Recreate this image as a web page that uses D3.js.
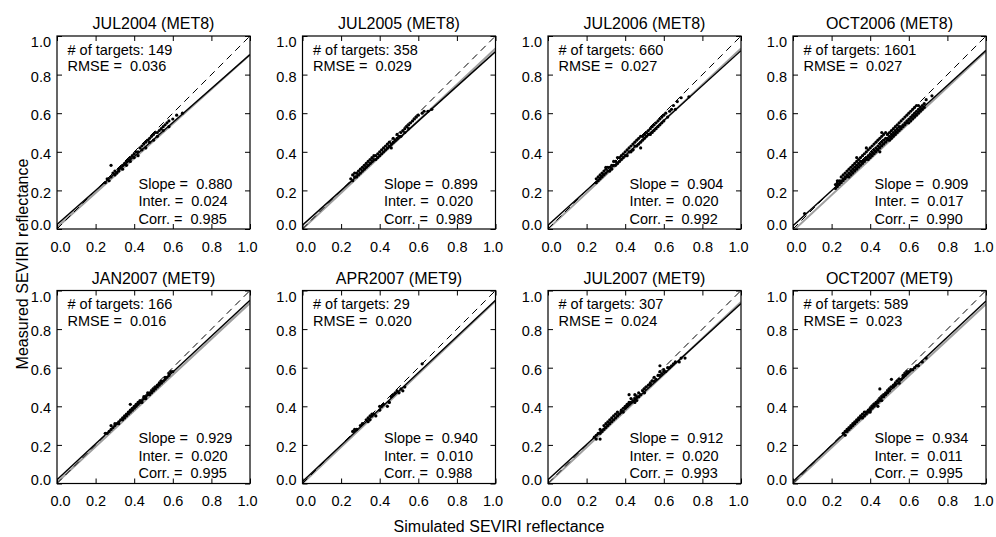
<!DOCTYPE html>
<html>
<head>
<meta charset="utf-8">
<script src="https://cdn.jsdelivr.net/npm/d3@7"></script>
<style>
body { margin: 0; background: #fff; }
svg text { font-family: "Liberation Sans", Arial, Helvetica, sans-serif; fill: #000; }
</style>
</head>
<body>
<div id="chart-area"></div>
<script>
// SEVIRI measured vs simulated reflectance, 8 campaigns
var titles = ["JUL2004 (MET8)", "JUL2005 (MET8)", "JUL2006 (MET8)", "OCT2006 (MET8)",
              "JAN2007 (MET9)", "APR2007 (MET9)", "JUL2007 (MET9)", "OCT2007 (MET9)"];
var nTargets = [149, 358, 660, 1601, 166, 29, 307, 589];
var rmse   = [0.036, 0.029, 0.027, 0.027, 0.016, 0.020, 0.024, 0.023];
var slopes = [0.880, 0.899, 0.904, 0.909, 0.929, 0.940, 0.912, 0.934];
var inters = [0.024, 0.020, 0.020, 0.017, 0.020, 0.010, 0.020, 0.011];
var corrs  = [0.985, 0.989, 0.992, 0.990, 0.995, 0.988, 0.993, 0.995];
// grey line: [intercept, slope]
var greyFits = [[0.008, 0.895], [0.0, 0.935], [0.0, 0.935], [-0.01, 0.93],
                [0.005, 0.93], [0.0, 0.945], [0.0, 0.94], [0.0, 0.93]];
var tickValues = [0, 0.2, 0.4, 0.6, 0.8, 1.0];

// [simulated, measured]
var jul2004 = [[0.25,0.24],[0.26,0.26],[0.27,0.25],[0.28,0.27],[0.28,0.33],[0.29,0.29],[0.30,0.28],[0.30,0.30],[0.31,0.29],[0.32,0.31],[0.32,0.30],[0.33,0.32],[0.34,0.33],[0.34,0.31],[0.35,0.34],[0.36,0.35],[0.36,0.33],[0.37,0.36],[0.38,0.37],[0.38,0.35],[0.39,0.38],[0.40,0.39],[0.40,0.37],[0.41,0.40],[0.42,0.40],[0.42,0.38],[0.43,0.42],[0.44,0.43],[0.44,0.41],[0.45,0.44],[0.46,0.45],[0.46,0.42],[0.47,0.46],[0.48,0.47],[0.48,0.45],[0.49,0.48],[0.50,0.49],[0.50,0.46],[0.51,0.50],[0.52,0.50],[0.52,0.48],[0.53,0.51],[0.54,0.52],[0.55,0.53],[0.55,0.51],[0.56,0.54],[0.57,0.55],[0.58,0.56],[0.58,0.53],[0.60,0.57],[0.62,0.59],[0.65,0.60]];
var jul2005 = [[0.25,0.26],[0.26,0.28],[0.26,0.25],[0.27,0.27],[0.27,0.29],[0.28,0.27],[0.28,0.29],[0.29,0.28],[0.29,0.30],[0.30,0.29],[0.30,0.31],[0.31,0.30],[0.31,0.32],[0.32,0.31],[0.32,0.33],[0.33,0.32],[0.33,0.34],[0.34,0.33],[0.34,0.35],[0.35,0.34],[0.35,0.36],[0.36,0.35],[0.36,0.37],[0.37,0.36],[0.37,0.38],[0.38,0.36],[0.38,0.38],[0.39,0.37],[0.39,0.39],[0.40,0.38],[0.40,0.40],[0.41,0.39],[0.41,0.41],[0.42,0.40],[0.42,0.42],[0.43,0.41],[0.43,0.43],[0.44,0.42],[0.44,0.44],[0.45,0.43],[0.45,0.45],[0.46,0.44],[0.46,0.42],[0.47,0.45],[0.47,0.47],[0.48,0.46],[0.49,0.47],[0.49,0.49],[0.50,0.48],[0.51,0.50],[0.51,0.48],[0.52,0.51],[0.53,0.52],[0.53,0.50],[0.54,0.53],[0.55,0.54],[0.55,0.52],[0.56,0.55],[0.57,0.56],[0.58,0.57],[0.59,0.58],[0.60,0.59],[0.62,0.60],[0.63,0.61],[0.65,0.61],[0.67,0.62]];
var jul2006 = [[0.25,0.24],[0.25,0.26],[0.26,0.25],[0.26,0.27],[0.27,0.28],[0.27,0.26],[0.28,0.29],[0.28,0.27],[0.29,0.30],[0.29,0.28],[0.30,0.31],[0.30,0.29],[0.31,0.32],[0.31,0.30],[0.32,0.32],[0.32,0.30],[0.33,0.33],[0.33,0.31],[0.34,0.35],[0.34,0.33],[0.35,0.35],[0.35,0.33],[0.36,0.37],[0.36,0.34],[0.37,0.37],[0.37,0.35],[0.38,0.38],[0.38,0.36],[0.39,0.39],[0.39,0.37],[0.40,0.40],[0.40,0.38],[0.41,0.41],[0.41,0.38],[0.42,0.42],[0.42,0.40],[0.43,0.43],[0.43,0.40],[0.44,0.44],[0.44,0.41],[0.45,0.45],[0.45,0.43],[0.46,0.46],[0.46,0.43],[0.47,0.47],[0.47,0.44],[0.48,0.48],[0.48,0.45],[0.49,0.48],[0.49,0.46],[0.50,0.49],[0.50,0.47],[0.51,0.50],[0.51,0.48],[0.52,0.51],[0.52,0.49],[0.53,0.52],[0.53,0.49],[0.54,0.53],[0.54,0.50],[0.55,0.54],[0.55,0.51],[0.56,0.55],[0.56,0.52],[0.57,0.56],[0.57,0.53],[0.58,0.57],[0.58,0.54],[0.59,0.58],[0.59,0.55],[0.60,0.59],[0.60,0.56],[0.61,0.60],[0.62,0.58],[0.63,0.61],[0.64,0.62],[0.65,0.64],[0.66,0.62],[0.67,0.66],[0.69,0.68],[0.73,0.685],[0.44,0.41],[0.48,0.42],[0.30,0.32]];
var oct2006 = [[0.22,0.21],[0.22,0.23],[0.23,0.22],[0.23,0.24],[0.23,0.25],[0.24,0.23],[0.24,0.25],[0.25,0.24],[0.25,0.25],[0.25,0.27],[0.26,0.25],[0.26,0.26],[0.26,0.28],[0.27,0.26],[0.27,0.27],[0.27,0.29],[0.28,0.27],[0.28,0.28],[0.28,0.30],[0.29,0.27],[0.29,0.29],[0.29,0.31],[0.30,0.28],[0.30,0.30],[0.30,0.32],[0.31,0.29],[0.31,0.31],[0.31,0.33],[0.32,0.30],[0.32,0.32],[0.32,0.34],[0.33,0.31],[0.33,0.33],[0.33,0.35],[0.34,0.32],[0.34,0.34],[0.34,0.36],[0.35,0.33],[0.35,0.35],[0.35,0.37],[0.36,0.34],[0.36,0.35],[0.36,0.38],[0.37,0.35],[0.37,0.36],[0.37,0.39],[0.38,0.36],[0.38,0.37],[0.38,0.40],[0.39,0.36],[0.39,0.38],[0.39,0.41],[0.40,0.37],[0.40,0.39],[0.40,0.42],[0.41,0.38],[0.41,0.40],[0.41,0.43],[0.42,0.39],[0.42,0.41],[0.42,0.44],[0.43,0.40],[0.43,0.42],[0.43,0.45],[0.44,0.41],[0.44,0.43],[0.44,0.46],[0.45,0.42],[0.45,0.44],[0.45,0.47],[0.46,0.43],[0.46,0.45],[0.46,0.48],[0.47,0.44],[0.47,0.46],[0.47,0.49],[0.48,0.45],[0.48,0.47],[0.48,0.50],[0.49,0.46],[0.49,0.47],[0.49,0.49],[0.50,0.46],[0.50,0.48],[0.50,0.50],[0.51,0.47],[0.51,0.49],[0.51,0.51],[0.52,0.48],[0.52,0.50],[0.52,0.52],[0.53,0.49],[0.53,0.51],[0.53,0.53],[0.54,0.50],[0.54,0.52],[0.54,0.54],[0.55,0.51],[0.55,0.53],[0.55,0.55],[0.56,0.52],[0.56,0.53],[0.56,0.56],[0.57,0.53],[0.57,0.54],[0.57,0.57],[0.58,0.54],[0.58,0.55],[0.58,0.58],[0.59,0.55],[0.59,0.56],[0.59,0.59],[0.60,0.55],[0.60,0.57],[0.60,0.60],[0.61,0.56],[0.61,0.58],[0.61,0.61],[0.62,0.57],[0.62,0.59],[0.62,0.62],[0.63,0.58],[0.63,0.60],[0.63,0.63],[0.64,0.59],[0.64,0.61],[0.64,0.64],[0.65,0.60],[0.65,0.62],[0.65,0.64],[0.66,0.61],[0.66,0.63],[0.67,0.62],[0.67,0.64],[0.68,0.63],[0.68,0.65],[0.69,0.67],[0.46,0.50],[0.38,0.42],[0.06,0.08],[0.72,0.69],[0.45,0.40],[0.33,0.37]];
var jan2007 = [[0.25,0.26],[0.26,0.26],[0.27,0.27],[0.28,0.28],[0.29,0.29],[0.30,0.30],[0.30,0.31],[0.31,0.31],[0.32,0.32],[0.32,0.31],[0.33,0.33],[0.34,0.33],[0.34,0.34],[0.35,0.35],[0.35,0.34],[0.36,0.35],[0.36,0.36],[0.37,0.36],[0.37,0.37],[0.38,0.37],[0.38,0.38],[0.39,0.38],[0.39,0.39],[0.40,0.39],[0.40,0.40],[0.41,0.40],[0.41,0.41],[0.42,0.41],[0.42,0.42],[0.43,0.42],[0.43,0.43],[0.44,0.43],[0.44,0.42],[0.45,0.44],[0.45,0.45],[0.46,0.45],[0.46,0.44],[0.47,0.46],[0.47,0.47],[0.48,0.47],[0.48,0.46],[0.49,0.48],[0.49,0.47],[0.50,0.49],[0.50,0.48],[0.51,0.50],[0.51,0.49],[0.52,0.50],[0.52,0.51],[0.53,0.52],[0.53,0.51],[0.54,0.52],[0.54,0.53],[0.55,0.53],[0.56,0.54],[0.56,0.55],[0.57,0.55],[0.58,0.56],[0.58,0.57],[0.59,0.58],[0.60,0.58],[0.38,0.41],[0.28,0.30]];
var apr2007 = [[0.26,0.27],[0.27,0.28],[0.28,0.28],[0.30,0.30],[0.31,0.31],[0.33,0.33],[0.34,0.32],[0.34,0.34],[0.35,0.35],[0.35,0.33],[0.36,0.36],[0.36,0.35],[0.37,0.36],[0.38,0.35],[0.40,0.40],[0.40,0.38],[0.41,0.40],[0.42,0.41],[0.44,0.40],[0.45,0.42],[0.46,0.45],[0.47,0.46],[0.48,0.47],[0.49,0.48],[0.50,0.47],[0.51,0.49],[0.52,0.48],[0.53,0.50],[0.62,0.62]];
var jul2007 = [[0.24,0.24],[0.25,0.25],[0.25,0.23],[0.26,0.26],[0.27,0.26],[0.27,0.28],[0.28,0.27],[0.29,0.28],[0.29,0.30],[0.30,0.29],[0.30,0.31],[0.31,0.30],[0.31,0.32],[0.32,0.31],[0.32,0.33],[0.33,0.32],[0.33,0.34],[0.34,0.33],[0.34,0.35],[0.35,0.34],[0.35,0.36],[0.36,0.35],[0.36,0.37],[0.37,0.36],[0.38,0.37],[0.38,0.38],[0.39,0.37],[0.39,0.39],[0.40,0.39],[0.40,0.40],[0.41,0.40],[0.41,0.41],[0.42,0.41],[0.42,0.42],[0.43,0.42],[0.43,0.44],[0.44,0.43],[0.45,0.44],[0.45,0.46],[0.45,0.42],[0.46,0.45],[0.47,0.45],[0.47,0.47],[0.48,0.46],[0.49,0.48],[0.50,0.49],[0.50,0.47],[0.51,0.50],[0.52,0.51],[0.53,0.51],[0.53,0.52],[0.54,0.53],[0.55,0.53],[0.55,0.55],[0.56,0.54],[0.57,0.56],[0.58,0.56],[0.58,0.58],[0.59,0.57],[0.60,0.58],[0.60,0.59],[0.61,0.58],[0.62,0.60],[0.63,0.60],[0.64,0.61],[0.65,0.62],[0.66,0.63],[0.68,0.63],[0.69,0.65],[0.71,0.65],[0.46,0.43],[0.42,0.46],[0.58,0.61],[0.27,0.23]];
var oct2007 = [[0.26,0.26],[0.27,0.27],[0.27,0.25],[0.28,0.28],[0.28,0.27],[0.29,0.29],[0.29,0.28],[0.30,0.30],[0.30,0.29],[0.31,0.31],[0.31,0.30],[0.32,0.32],[0.32,0.31],[0.33,0.33],[0.33,0.32],[0.34,0.34],[0.34,0.33],[0.35,0.35],[0.35,0.34],[0.36,0.36],[0.36,0.34],[0.37,0.37],[0.37,0.35],[0.38,0.37],[0.38,0.36],[0.39,0.38],[0.39,0.37],[0.40,0.39],[0.40,0.38],[0.41,0.40],[0.41,0.39],[0.42,0.41],[0.42,0.40],[0.43,0.42],[0.43,0.41],[0.44,0.43],[0.44,0.42],[0.45,0.44],[0.45,0.43],[0.45,0.49],[0.46,0.45],[0.46,0.43],[0.47,0.46],[0.47,0.45],[0.48,0.47],[0.48,0.46],[0.49,0.48],[0.49,0.47],[0.50,0.49],[0.50,0.48],[0.51,0.50],[0.51,0.54],[0.52,0.50],[0.52,0.51],[0.53,0.51],[0.53,0.52],[0.54,0.53],[0.55,0.54],[0.55,0.52],[0.56,0.54],[0.57,0.55],[0.57,0.56],[0.58,0.56],[0.58,0.57],[0.59,0.57],[0.59,0.58],[0.60,0.58],[0.61,0.59],[0.62,0.59],[0.63,0.60],[0.64,0.61],[0.65,0.61],[0.67,0.63],[0.69,0.65],[0.40,0.37],[0.44,0.40]];
var points = [jul2004, jul2005, jul2006, oct2006, jan2007, apr2007, jul2007, oct2007];

var width = 996, height = 537;
var size = 193;
var colLeft = [57, 302.5, 548, 793];
var rowTop = [36, 290.5];
var gap = "\u00a0\u00a0"; // two spaces between "=" and the value

var svg = d3.select("#chart-area").append("svg")
    .attr("width", width)
    .attr("height", height);

var x = d3.scaleLinear().domain([0, 1]).range([0, size]);
var y = d3.scaleLinear().domain([0, 1]).range([size, 0]);
var f3 = d3.format(".3f");
var line = d3.line().x(function(d) { return x(d[0]); }).y(function(d) { return y(d[1]); });

titles.forEach(function(title, i) {
    var col = i % 4, row = Math.floor(i / 4);
    var g = svg.append("g")
        .attr("transform", "translate(" + colLeft[col] + "," + rowTop[row] + ")");

    g.append("clipPath").attr("id", "clip" + i)
        .append("rect").attr("width", size).attr("height", size);
    var plot = g.append("g").attr("clip-path", "url(#clip" + i + ")");

    // grey fit
    var gf = greyFits[i];
    plot.append("path")
        .attr("d", line([[0, gf[0]], [1, gf[0] + gf[1]]]))
        .attr("fill", "none")
        .attr("stroke", "#a0a0a0")
        .attr("stroke-width", 2);
    // regression line
    plot.append("path")
        .attr("d", line([[0, inters[i]], [1, inters[i] + slopes[i]]]))
        .attr("fill", "none")
        .attr("stroke", "#000")
        .attr("stroke-width", 1.4);
    // 1:1 line
    plot.append("path")
        .attr("d", line([[0, 0], [1, 1]]))
        .attr("fill", "none")
        .attr("stroke", "#000")
        .attr("stroke-width", 1)
        .attr("stroke-dasharray", "7,5");

    plot.selectAll("circle")
        .data(points[i])
        .enter().append("circle")
        .attr("cx", function(d) { return x(d[0]); })
        .attr("cy", function(d) { return y(d[1]); })
        .attr("r", 1.6)
        .attr("fill", "#000");

    // axes, ticks pointing inward on all sides
    var bottom = g.append("g").attr("transform", "translate(0," + size + ")")
        .call(d3.axisBottom(x).tickValues(tickValues).tickSizeInner(-5).tickSizeOuter(0)
              .tickPadding(12.5).tickFormat(d3.format(".1f")));
    bottom.selectAll("text")
        .attr("x", function(d) { return d === 0 ? 3 : (d === 1 ? -3 : 0); });
    var left = g.append("g")
        .call(d3.axisLeft(y).tickValues(tickValues).tickSizeInner(-5).tickSizeOuter(0)
              .tickPadding(6).tickFormat(d3.format(".1f")));
    left.selectAll("text")
        .attr("y", function(d) { return d === 0 ? -4 : (d === 1 ? 6 : 2); });
    g.append("g")
        .call(d3.axisTop(x).tickValues(tickValues).tickSizeInner(-5).tickSizeOuter(0).tickFormat(""));
    g.append("g").attr("transform", "translate(" + size + ",0)")
        .call(d3.axisRight(y).tickValues(tickValues).tickSizeInner(-5).tickSizeOuter(0).tickFormat(""));

    g.selectAll(".domain").remove();
    g.selectAll(".tick line").attr("stroke", "#000").attr("stroke-width", 1);
    g.selectAll(".tick text")
        .style("font-size", "14.5px")
        .attr("fill", "#000");

    g.append("rect")
        .attr("width", size)
        .attr("height", size)
        .attr("fill", "none")
        .attr("stroke", "#000")
        .attr("stroke-width", 1.2);

    // title
    g.append("text")
        .attr("x", size / 2)
        .attr("y", -7)
        .attr("text-anchor", "middle")
        .style("font-size", "16px")
        .text(title);

    // statistics
    var stats = g.append("g").style("font-size", "14.5px");
    stats.append("text").attr("x", 10.5).attr("y", 18.5).text("# of targets: " + nTargets[i]);
    stats.append("text").attr("x", 10.5).attr("y", 35).text("RMSE =" + gap + f3(rmse[i]));
    stats.append("text").attr("x", 81.5).attr("y", size - 40.5).text("Slope =" + gap + f3(slopes[i]));
    stats.append("text").attr("x", 81.5).attr("y", size - 23).text("Inter. =" + gap + f3(inters[i]));
    stats.append("text").attr("x", 81.5).attr("y", size - 5.5).text("Corr. =" + gap + f3(corrs[i]));
});

// X Label
svg.append("text")
    .attr("x", 499)
    .attr("y", 532)
    .attr("text-anchor", "middle")
    .style("font-size", "16px")
    .text("Simulated SEVIRI reflectance");
// Y Label
svg.append("text")
    .attr("x", -264)
    .attr("y", 28)
    .attr("text-anchor", "middle")
    .attr("transform", "rotate(-90)")
    .style("font-size", "16px")
    .text("Measured SEVIRI reflectance");
</script>
</body>
</html>
